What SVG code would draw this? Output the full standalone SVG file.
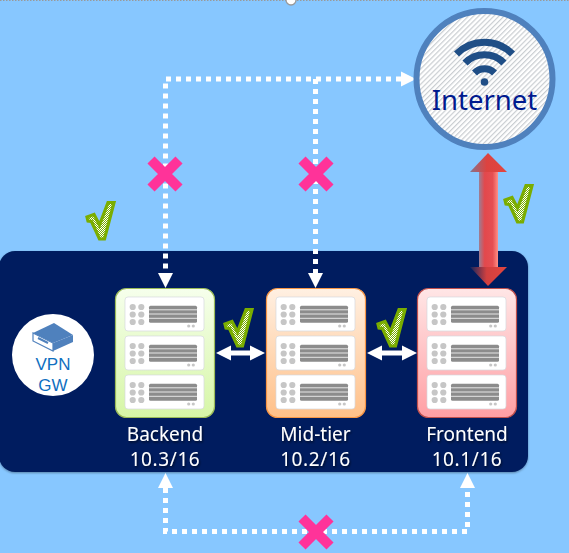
<svg xmlns="http://www.w3.org/2000/svg" width="569" height="553" viewBox="0 0 569 553">
<style>
.lbl{font-family:"Noto Sans","Open Sans","Liberation Sans",sans-serif;font-size:19px;fill:#fff;text-anchor:middle;filter:url(#ts)}
.num{letter-spacing:.6px}
.dot{fill:none;stroke:#fff;stroke-width:5;stroke-dasharray:5 5}
.wa{fill:none;stroke:#fff;stroke-width:5}
.x{stroke:#ff3399;stroke-width:10;fill:none}
.chk{fill:url(#chk);stroke:#7aad00;stroke-width:3.200;stroke-linejoin:miter}
.wifi{fill:none;stroke:#1f4e86;stroke-width:7}
.vpn{font-family:"Liberation Sans","Noto Sans",sans-serif;font-size:17px;fill:#0f6fc0;text-anchor:middle}
</style>
<defs>
<marker id="ah" markerUnits="userSpaceOnUse" markerWidth="16" markerHeight="16" refX="0" refY="8" orient="auto-start-reverse"><path d="M0 0.500L15 8L0 15.500z" fill="#fff"/></marker>
<pattern id="chk" width="2" height="2" patternUnits="userSpaceOnUse"><rect width="2" height="2" fill="#fff"/><rect width="1" height="1" fill="#7aad00"/><rect x="1" y="1" width="1" height="1" fill="#7aad00"/></pattern>
<pattern id="hatch" width="3.600" height="3.600" patternUnits="userSpaceOnUse" patternTransform="rotate(-45)"><rect width="3.600" height="3.600" fill="#fff"/><rect width="3.600" height="1.200" fill="#c9cdd1"/></pattern>
<linearGradient id="gb" x1="0" y1="0" x2="0" y2="1"><stop offset="0" stop-color="#f6ffec"/><stop offset="1" stop-color="#d6f6a6"/></linearGradient>
<linearGradient id="gm" x1="0" y1="0" x2="0" y2="1"><stop offset="0" stop-color="#fff0e2"/><stop offset="1" stop-color="#ffc088"/></linearGradient>
<linearGradient id="gf" x1="0" y1="0" x2="0" y2="1"><stop offset="0" stop-color="#ffe6e6"/><stop offset="1" stop-color="#ff9fa4"/></linearGradient>
<linearGradient id="red" x1="0" y1="0" x2="1" y2="0"><stop offset="0" stop-color="#9a7f95"/><stop offset="0.3" stop-color="#e2484c"/><stop offset="0.72" stop-color="#e64f52"/><stop offset="1" stop-color="#ff8f86"/></linearGradient>
<linearGradient id="redUp" x1="0" y1="0" x2="1" y2="0"><stop offset="0" stop-color="#87728a"/><stop offset="0.45" stop-color="#dc4340"/><stop offset="1" stop-color="#e2453f"/></linearGradient>
<linearGradient id="redDn" x1="0" y1="0" x2="1" y2="0"><stop offset="0" stop-color="#14265c"/><stop offset="0.45" stop-color="#d2403f"/><stop offset="1" stop-color="#e2453f"/></linearGradient>
<filter id="ts" x="-10%" y="-20%" width="120%" height="150%"><feDropShadow dx="1" dy="1.500" stdDeviation="0.800" flood-color="#000" flood-opacity="0.6"/></filter>
<filter id="ps" x="-2%" y="-2%" width="104%" height="104%"><feDropShadow dx="0" dy="1" stdDeviation="1" flood-color="#000" flood-opacity="0.35"/></filter>
<g id="card">
<rect x="0" y="0" width="79" height="34" rx="3" fill="#fff" stroke="#d5d8de" stroke-width="0.700"/>
<g fill="#c6c6c6"><circle cx="7.700" cy="10" r="3.100"/><circle cx="7.700" cy="17.500" r="3.100"/><circle cx="7.700" cy="25" r="3.100"/><circle cx="16.300" cy="10" r="3.100"/><circle cx="16.300" cy="17.500" r="3.100"/><circle cx="16.300" cy="25" r="3.100"/></g>
<rect x="24" y="8.700" width="48" height="17" rx="1.500" fill="#8c8c8c"/>
<path d="M24 12.800H72M24 17H72M24 21.300H72" stroke="#f0f0f0" stroke-width="0.900"/>
<circle cx="63.700" cy="29" r="1.600" fill="#c6c6c6"/><circle cx="68.300" cy="29" r="1.600" fill="#c6c6c6"/>
</g>
<g id="rack">
<use href="#card" x="10" y="9"/><use href="#card" x="10" y="48"/><use href="#card" x="10" y="87"/>
</g>
<path id="tick" d="M1 16L8 13.500L13.500 24L22 1.500L28 1.500L18.500 38L13.500 38L5.500 20.500L2 20z"/>
</defs>

<rect width="569" height="553" fill="#87c7ff"/>
<path d="M0 0.500H569" stroke="#999" stroke-width="1" stroke-dasharray="1.500 1.500"/>
<circle cx="291" cy="0" r="5" fill="#fff" stroke="#999" stroke-width="1.300"/>

<rect id="panel" x="-1" y="251" width="529" height="221" rx="16" fill="#001f5f" filter="url(#ps)"/>

<g id="connectors">
<path class="dot" d="M401 79H165.500V273" marker-start="url(#ah)" marker-end="url(#ah)"/>
<path class="dot" d="M315.500 79V273" marker-end="url(#ah)"/>
<path class="dot" d="M165.500 488V531.500H467.500V488" marker-start="url(#ah)" marker-end="url(#ah)"/>
<path class="wa" d="M231 353H250" marker-start="url(#ah)" marker-end="url(#ah)"/>
<path class="wa" d="M382 353H402" marker-start="url(#ah)" marker-end="url(#ah)"/>
<g id="red-arrow">
<rect x="479" y="170" width="19" height="99" fill="url(#red)"/>
<path d="M470 172L488 153L507 172z" fill="url(#redUp)"/>
<path d="M470 267L488 286L507 267z" fill="url(#redDn)"/>
</g>
</g>

<g id="marks">
<path class="x" d="M151 160L179 188M179 160L151 188"/>
<path class="x" d="M302 160L330 188M330 160L302 188"/>
<path class="x" d="M302 518L330 546M330 518L302 546"/>
<use href="#tick" x="86" y="201" class="chk"/>
<use href="#tick" x="504" y="184" class="chk"/>
<use href="#tick" x="224" y="308" class="chk"/>
<use href="#tick" x="377" y="308" class="chk"/>
</g>

<g id="internet">
<circle cx="484.500" cy="79" r="68" fill="url(#hatch)" stroke="#4f81bd" stroke-width="6"/>
<path class="wifi" d="M456.500 54A39 39 0 0 1 512.500 54"/>
<path class="wifi" d="M465 63A27 27 0 0 1 504 63"/>
<path class="wifi" d="M474.500 73A14 14 0 0 1 494.500 73"/>
<circle cx="484.500" cy="82" r="3.800" fill="#1f4e86"/>
<text x="484.500" y="110" font-family="'Noto Sans','Open Sans','Liberation Sans',sans-serif" font-size="27.500" fill="#001a8f" text-anchor="middle">Internet</text>
</g>

<g id="vpn-gw">
<circle cx="53" cy="355" r="41" fill="#fff"/>
<path d="M33 333L54 323L73 335L53 343z" fill="#4f81bd"/>
<path d="M33 333V341L53 351V343z" fill="#fff" stroke="#4f81bd" stroke-width="1.200"/>
<path d="M73 335V342L53 351V343z" fill="#4f81bd"/>
<path d="M38 338L48 343" stroke="#4f81bd" stroke-width="2"/>
<text class="vpn" x="53" y="370">VPN</text>
<text class="vpn" x="53" y="391">GW</text>
</g>

<g id="backend">
<rect x="115.500" y="288.500" width="99" height="129" rx="11" fill="url(#gb)" stroke="#9bbb59" stroke-width="1.200"/>
<use href="#rack" x="115" y="288"/>
<text class="lbl" x="165" y="441">Backend</text>
<text class="lbl num" x="165" y="466">10.3/16</text>
</g>

<g id="mid-tier">
<rect x="266.500" y="288.500" width="99" height="129" rx="11" fill="url(#gm)" stroke="#f79646" stroke-width="1.200"/>
<use href="#rack" x="266" y="288"/>
<text class="lbl" x="315.500" y="441">Mid-tier</text>
<text class="lbl num" x="315.500" y="466">10.2/16</text>
</g>

<g id="frontend">
<rect x="417.500" y="288.500" width="99" height="129" rx="11" fill="url(#gf)" stroke="#c0504d" stroke-width="1.200"/>
<use href="#rack" x="417" y="288"/>
<text class="lbl" x="467" y="441">Frontend</text>
<text class="lbl num" x="467" y="466">10.1/16</text>
</g>
</svg>
